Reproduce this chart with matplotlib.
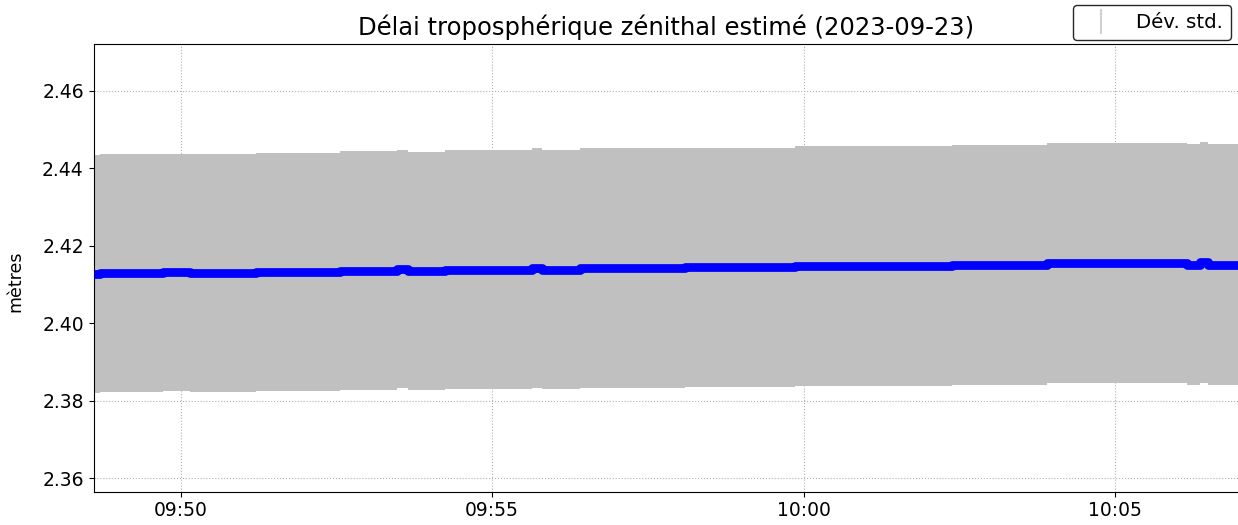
import matplotlib

matplotlib.use("Agg")
import matplotlib.pyplot as plt
import matplotlib.dates as mdates
from matplotlib.lines import Line2D
import numpy as np
import pandas as pd


DATE = "2023-09-23"

# start of each (nearly constant) stretch of the ZTD estimate
SEG_START = [
    "09:48:36", "09:48:42", "09:49:43", "09:50:09", "09:50:57",
    "09:51:13", "09:52:33", "09:53:28", "09:53:39", "09:54:15",
    "09:55:38", "09:55:48", "09:56:25", "09:58:06", "09:59:52",
    "10:02:23", "10:03:55", "10:06:09", "10:06:22", "10:06:30",
]
END_TIME = "10:07:00"

ZTD = [
    2.4127, 2.4129, 2.4131, 2.4129, 2.4130,
    2.4132, 2.41355, 2.4140, 2.4135, 2.4138,
    2.4143, 2.4138, 2.4142, 2.4144, 2.4148,
    2.4151, 2.41546, 2.4151, 2.4157, 2.4151,
]

STD = [
    0.0307, 0.0307, 0.0307, 0.0307, 0.0308,
    0.0308, 0.0308, 0.0308, 0.0308, 0.0309,
    0.0309, 0.0309, 0.0309, 0.0309, 0.0310,
    0.0310, 0.0310, 0.0311, 0.0311, 0.0311,
]

YLIM = (2.3565, 2.4720)

W, H = 1238, 525


def main():
    times = pd.to_datetime([f"{DATE} {t}" for t in SEG_START + [END_TIME]])
    ztd = np.array(ZTD + [ZTD[-1]])
    std = np.array(STD + [STD[-1]])

    fig = plt.figure(figsize=(W / 100, H / 100), dpi=100, facecolor="white")
    ax = fig.add_axes([93.5 / W, 1 - 491.7 / H, (1239.5 - 93.5) / W, (491.7 - 44.3) / H])
    ax.set_axisbelow(True)

    ax.fill_between(times, ztd - std, ztd + std, step="post", color="#c0c0c0", lw=0, zorder=2)
    ax.plot(times, ztd, drawstyle="steps-post", color="#0000ff", lw=6.3, zorder=3,
            solid_capstyle="butt", solid_joinstyle="round")

    ax.set_xlim(times[0], times[-1])
    ax.set_ylim(*YLIM)
    ax.set_yticks([2.36, 2.38, 2.40, 2.42, 2.44, 2.46])
    ax.xaxis.set_major_locator(mdates.MinuteLocator(byminute=range(0, 60, 5)))
    ax.xaxis.set_major_formatter(mdates.DateFormatter("%H:%M"))
    ax.tick_params(labelsize=13.5)
    ax.grid(True, linestyle=":", color="#b0b0b0", linewidth=0.8)

    ax.set_ylabel("mètres", fontsize=12.5)
    ax.yaxis.set_label_coords(-0.06, 0.47)
    ax.set_title(f"Délai troposphérique zénithal estimé ({DATE})", fontsize=17.5, pad=7)

    handle = Line2D([], [], marker="|", linestyle="None", color="#d0d0d0",
                    markersize=18, markeredgewidth=1.5)
    ax.legend([handle], ["Dév. std."], loc="lower right", fontsize=14.2,
              bbox_to_anchor=(1231 / W, 1 - 40 / H), bbox_transform=fig.transFigure,
              borderaxespad=0, framealpha=1, edgecolor="0.15", fancybox=True)

    fig.savefig("out.png", dpi=100, facecolor="white")


if __name__ == "__main__":
    main()
